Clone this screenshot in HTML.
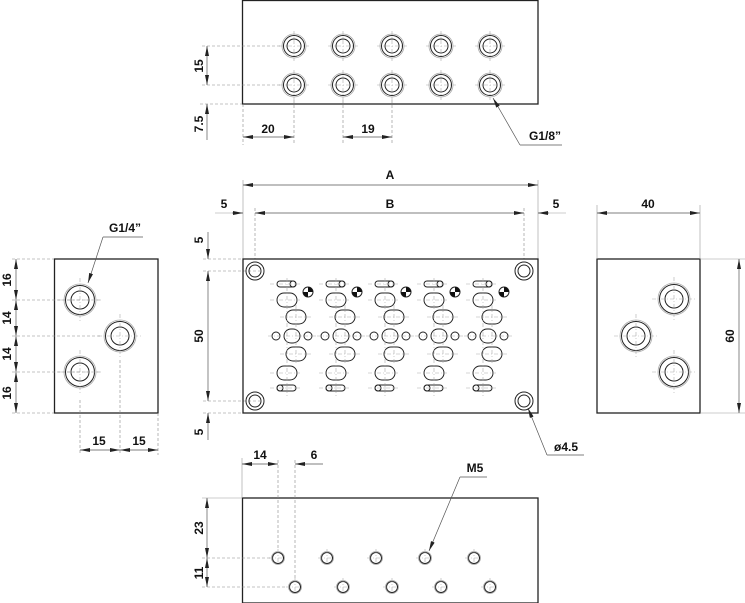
<!DOCTYPE html>
<html><head><meta charset="utf-8"><style>
html,body{margin:0;padding:0;background:#fff}
svg{display:block}
text{font-family:"Liberation Sans",Arial,sans-serif;font-weight:bold;font-size:12px;fill:#111}
.b{fill:none;stroke:#222;stroke-width:1.3}
.h{fill:none;stroke:#222;stroke-width:1}
.g{fill:none;stroke:#999;stroke-width:0.6}
.d{fill:none;stroke:#888;stroke-width:0.6;stroke-dasharray:3,2}
.c{fill:none;stroke:#aaa;stroke-width:0.6;stroke-dasharray:4,2,1,2}
.dim{fill:none;stroke:#555;stroke-width:0.7}
</style></head><body>
<svg width="745" height="603" viewBox="0 0 745 603" xmlns="http://www.w3.org/2000/svg">
<defs>
<marker id="ar" viewBox="0 0 10 4" refX="10" refY="2" markerWidth="10" markerHeight="4" orient="auto-start-reverse" markerUnits="userSpaceOnUse"><path d="M0,0L10,2L0,4z" fill="#222"/></marker>
<g id="port8">
<circle r="12" fill="none" stroke="#aaa" stroke-width="0.8"/>
<circle r="10.5" class="h"/><circle r="7" class="h"/>
<path d="M-15,0H15M0,-15V15" class="c"/>
</g>
<g id="port4">
<circle r="16" fill="none" stroke="#aaa" stroke-width="0.8"/>
<circle r="14.5" class="h"/><circle r="9" class="h"/>
<path d="M-22,0H22M0,-22V22" class="c"/>
</g>
<g id="m5">
<circle r="6.5" fill="none" stroke="#aaa" stroke-width="0.8"/>
<circle r="5.5" class="h"/>
<path d="M-9,0H9M0,-9V9" class="c"/>
</g>
<g id="mnt">
<circle r="9" class="h"/><circle r="6" class="h"/>
</g>
<g id="col">
<rect x="277" y="281" width="19" height="6" rx="3" class="h"/><circle cx="293" cy="284" r="3" class="h"/>
<circle cx="308" cy="292" r="5" fill="#fff" stroke="#222" stroke-width="1"/>
<path d="M308,292V287A5,5 0 0 1 313,292Z M308,292V297A5,5 0 0 1 303,292Z" fill="#111"/>
<rect x="277" y="293" width="20" height="14" rx="7" class="h"/>
<rect x="286" y="310" width="20" height="14" rx="7" class="h"/>
<rect x="284" y="329" width="16" height="14" rx="7" class="h"/>
<circle cx="276" cy="336" r="4" class="h"/><circle cx="308" cy="336" r="4" class="h"/>
<rect x="286" y="347" width="20" height="14" rx="7" class="h"/>
<rect x="277" y="366" width="20" height="14" rx="7" class="h"/>
<rect x="277" y="385" width="19" height="6" rx="3" class="h"/><circle cx="280" cy="388" r="3" class="h"/>
<path d="M270,284H300M270,300H300M280,317H312M268,336H316M280,354H312M270,373H300M270,388H300M287,278V396M296,305V365" class="c"/>
</g>
</defs>

<!-- TOP VIEW -->
<rect x="242.5" y="0.5" width="295.5" height="103.5" class="b"/>
<use href="#port8" x="294" y="46"/><use href="#port8" x="343" y="46"/><use href="#port8" x="392" y="46"/><use href="#port8" x="441" y="46"/><use href="#port8" x="490" y="46"/>
<use href="#port8" x="294" y="85"/><use href="#port8" x="343" y="85"/><use href="#port8" x="392" y="85"/><use href="#port8" x="441" y="85"/><use href="#port8" x="490" y="85"/>
<path d="M202,46H280M202,85H280M200,104H242M294,100V145M343,100V145M392,100V145M243,104V145" class="d"/>
<path d="M207,46V85" class="dim" marker-start="url(#ar)" marker-end="url(#ar)"/>
<path d="M207,104V140" class="dim" marker-start="url(#ar)"/>
<text transform="translate(203,66) rotate(-90)" text-anchor="middle">15</text>
<text transform="translate(203,124) rotate(-90)" text-anchor="middle">7.5</text>
<path d="M243,137H294" class="dim" marker-start="url(#ar)" marker-end="url(#ar)"/>
<path d="M343,137H392" class="dim" marker-start="url(#ar)" marker-end="url(#ar)"/>
<text x="268" y="133" text-anchor="middle">20</text><text x="368" y="133" text-anchor="middle">19</text>
<path d="M520,145L493,98" class="dim" marker-end="url(#ar)"/><path d="M520,145H562" class="dim"/>
<text x="545" y="140" text-anchor="middle">G1/8”</text>

<!-- MAIN DIMS -->
<path d="M243,180V259M538,180V259M215,213H243M538,213H566" class="g"/>
<path d="M255,208V259M524,208V259" class="d"/>
<path d="M243,185H538" class="dim" marker-start="url(#ar)" marker-end="url(#ar)"/>
<path d="M255,213H524" class="dim" marker-start="url(#ar)" marker-end="url(#ar)"/>
<path d="M232,213H243" class="dim" marker-end="url(#ar)"/><path d="M549,213H538" class="dim" marker-end="url(#ar)"/>
<text x="390" y="179" text-anchor="middle">A</text><text x="390" y="208" text-anchor="middle">B</text>
<text x="224" y="208" text-anchor="middle">5</text><text x="556" y="208" text-anchor="middle">5</text>
<path d="M203,259H243M203,271H260M203,401H260M203,413H243" class="d"/>
<path d="M208,232V259" class="dim" marker-end="url(#ar)"/>
<path d="M208,271V401" class="dim" marker-start="url(#ar)" marker-end="url(#ar)"/>
<path d="M208,440V413" class="dim" marker-end="url(#ar)"/>
<text transform="translate(203,240) rotate(-90)" text-anchor="middle">5</text>
<text transform="translate(203,336) rotate(-90)" text-anchor="middle">50</text>
<text transform="translate(203,432) rotate(-90)" text-anchor="middle">5</text>

<!-- MAIN VIEW -->
<rect x="243" y="259" width="295" height="154" class="b"/>
<use href="#mnt" x="255" y="271"/><use href="#mnt" x="524" y="271"/><use href="#mnt" x="255" y="401"/><use href="#mnt" x="524" y="401"/>
<use href="#col"/><use href="#col" x="49"/><use href="#col" x="98"/><use href="#col" x="147"/><use href="#col" x="196"/>
<path d="M547,455L528,408" class="dim" marker-end="url(#ar)"/><path d="M547,455H584" class="dim"/>
<text x="566" y="451" text-anchor="middle">ø4.5</text>

<!-- LEFT VIEW -->
<rect x="54.5" y="259" width="103.5" height="154" class="b"/>
<use href="#port4" x="80" y="300"/><use href="#port4" x="120" y="336"/><use href="#port4" x="80" y="372"/>
<path d="M12,259H54M12,300H100M12,336H100M12,372H100M12,413H54M80,400V455M120,360V455M158,413V455" class="d"/>
<path d="M16,259V300" class="dim" marker-start="url(#ar)" marker-end="url(#ar)"/>
<path d="M16,300V336" class="dim" marker-start="url(#ar)" marker-end="url(#ar)"/>
<path d="M16,336V372" class="dim" marker-start="url(#ar)" marker-end="url(#ar)"/>
<path d="M16,372V413" class="dim" marker-start="url(#ar)" marker-end="url(#ar)"/>
<text transform="translate(11,280) rotate(-90)" text-anchor="middle">16</text>
<text transform="translate(11,318) rotate(-90)" text-anchor="middle">14</text>
<text transform="translate(11,354) rotate(-90)" text-anchor="middle">14</text>
<text transform="translate(11,393) rotate(-90)" text-anchor="middle">16</text>
<path d="M80,450H120" class="dim" marker-start="url(#ar)" marker-end="url(#ar)"/>
<path d="M120,450H158" class="dim" marker-start="url(#ar)" marker-end="url(#ar)"/>
<text x="99" y="445" text-anchor="middle">15</text><text x="139" y="445" text-anchor="middle">15</text>
<path d="M103,237L88,283" class="dim" marker-end="url(#ar)"/><path d="M103,237H143" class="dim"/>
<text x="125" y="232" text-anchor="middle">G1/4”</text>

<!-- RIGHT VIEW -->
<rect x="597" y="259" width="103" height="154" class="b"/>
<use href="#port4" x="674" y="299"/><use href="#port4" x="636" y="336"/><use href="#port4" x="674" y="372"/>
<path d="M597,205V259M700,205V259M700,259H745M700,413H745" class="g"/>
<path d="M597,213H700" class="dim" marker-start="url(#ar)" marker-end="url(#ar)"/>
<text x="648" y="208" text-anchor="middle">40</text>
<path d="M739,259V413" class="dim" marker-start="url(#ar)" marker-end="url(#ar)"/>
<text transform="translate(734,336) rotate(-90)" text-anchor="middle">60</text>

<!-- BOTTOM VIEW -->
<rect x="242.5" y="498" width="295.5" height="105" class="b"/>
<use href="#m5" x="278" y="558"/><use href="#m5" x="327" y="558"/><use href="#m5" x="376" y="558"/><use href="#m5" x="425" y="558"/><use href="#m5" x="474" y="558"/>
<use href="#m5" x="295" y="587"/><use href="#m5" x="343" y="587"/><use href="#m5" x="392" y="587"/><use href="#m5" x="441" y="587"/><use href="#m5" x="490" y="587"/>
<path d="M242,458V498M202,498H242" class="g"/>
<path d="M278,460V550M295,460V580M202,558H270M202,587H287" class="d"/>
<path d="M242,464H278" class="dim" marker-start="url(#ar)" marker-end="url(#ar)"/>
<path d="M295,464H323" class="dim" marker-start="url(#ar)"/>
<text x="260" y="459" text-anchor="middle">14</text><text x="314" y="459" text-anchor="middle">6</text>
<path d="M207,498V558" class="dim" marker-start="url(#ar)" marker-end="url(#ar)"/>
<path d="M207,558V587" class="dim" marker-start="url(#ar)" marker-end="url(#ar)"/>
<text transform="translate(203,528) rotate(-90)" text-anchor="middle">23</text>
<text transform="translate(203,573) rotate(-90)" text-anchor="middle">11</text>
<path d="M460,477L429,551" class="dim" marker-end="url(#ar)"/><path d="M460,477H487" class="dim"/>
<text x="475" y="472" text-anchor="middle">M5</text>
</svg>
</body></html>
